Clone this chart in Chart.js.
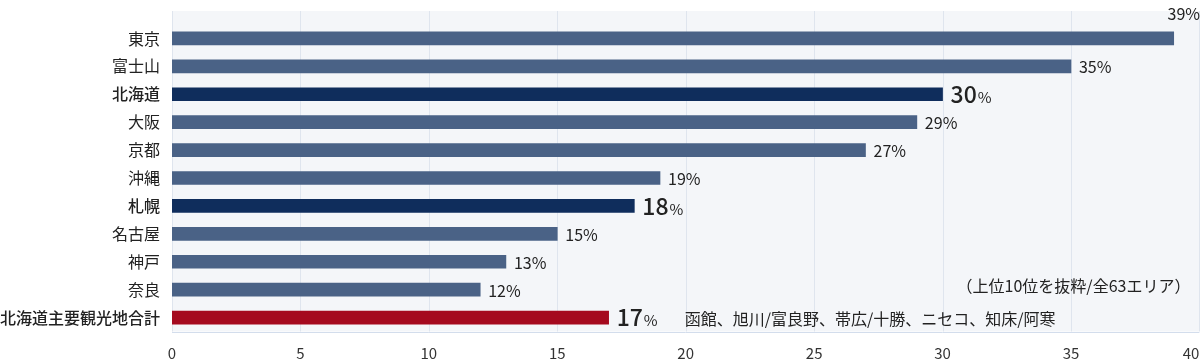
<!DOCTYPE html>
<html>
<head>
<meta charset="utf-8">
<script src="https://cdn.jsdelivr.net/npm/chart.js@4.4.1/dist/chart.umd.min.js"></script>
<style>
  body { margin: 0; background: #fff; }
  canvas { display: block; }
</style>
</head>
<body>
<canvas id="graph1" width="1201" height="364"></canvas>
<script>
// data
const areas = ['東京', '富士山', '北海道', '大阪', '京都', '沖縄', '札幌', '名古屋', '神戸', '奈良', '北海道主要観光地合計'];
const shares = [39, 35, 30, 29, 27, 19, 18, 15, 13, 12, 17];
const kinds = ['n', 'n', 'h', 'n', 'n', 'n', 'h', 'n', 'n', 'n', 't'];
const xTicks = [0, 5, 10, 15, 20, 25, 30, 35, 40];
const noteTop = '（上位10位を抜粋/全63エリア）';
const noteBottom = '函館、旭川/富良野、帯広/十勝、ニセコ、知床/阿寒';

const FONT = '"Noto Sans CJK JP", "Noto Sans", sans-serif';
const colorOf = { n: '#4a6286', h: '#0f2d5c', t: '#a50a1e' };

// plot background + vertical grid (extends a bit above the first bar)
const backPlugin = {
  id: 'back',
  beforeDraw(chart) {
    const c = chart.ctx;
    const a = chart.chartArea;
    const x = chart.scales.x;
    const top = a.top - 13.5;
    c.save();
    c.fillStyle = '#f4f6f9';
    c.fillRect(a.left, top, a.right - a.left, a.bottom - top);
    c.strokeStyle = '#dfe5ee';
    c.lineWidth = 1;
    xTicks.forEach(t => {
      let px = Math.round(x.getPixelForValue(t)) + 0.5;
      c.beginPath();
      c.moveTo(px, top);
      c.lineTo(px, a.bottom);
      c.stroke();
    });
    c.strokeStyle = '#d3ddec';
    c.beginPath();
    c.moveTo(a.left, Math.round(a.bottom) + 0.5);
    c.lineTo(a.right, Math.round(a.bottom) + 0.5);
    c.stroke();
    c.restore();
  }
};

// value labels, x tick labels and notes
const labelPlugin = {
  id: 'labels',
  afterDatasetsDraw(chart) {
    const c = chart.ctx;
    const a = chart.chartArea;
    const x = chart.scales.x;
    const y = chart.scales.y;
    const meta = chart.getDatasetMeta(0);
    c.save();
    c.fillStyle = '#222';
    c.textBaseline = 'middle';

    meta.data.forEach((bar, i) => {
      const v = String(shares[i]);
      if (kinds[i] == 'n') {
        c.font = '16px ' + FONT;
        let w = c.measureText(v + '%').width;
        if (bar.x + 8 + w > chart.width) {
          c.textAlign = 'right';
          c.fillText(v + '%', chart.width - 1, bar.y - 25);
        } else {
          c.textAlign = 'left';
          c.fillText(v + '%', bar.x + 8, bar.y + 1);
        }
      } else {
        c.textAlign = 'left';
        c.font = '500 23px ' + FONT;
        c.fillText(v, bar.x + 8, bar.y);
        let w = c.measureText(v).width;
        c.font = '15px ' + FONT;
        c.fillText('%', bar.x + 9 + w, bar.y + 3);
      }
    });

    // notes
    c.font = '16px ' + FONT;
    c.textAlign = 'right';
    c.fillText(noteTop, a.right - 9, y.getPixelForValue(9) - 4);
    c.textAlign = 'left';
    c.fillText(noteBottom, x.getPixelForValue(20) - 1, y.getPixelForValue(10) + 1);

    // x tick labels, last one kept inside the canvas
    c.font = '15px ' + FONT;
    c.fillStyle = '#333';
    xTicks.forEach((t, i) => {
      c.textAlign = i == xTicks.length - 1 ? 'right' : 'center';
      c.fillText(String(t), x.getPixelForValue(t), 353);
    });
    c.restore();
  }
};

const ctx = document.getElementById('graph1').getContext('2d');
const myChart = new Chart(ctx, {
  type: 'bar',
  data: {
    labels: areas,
    datasets: [{
      data: shares,
      backgroundColor: kinds.map(k => colorOf[k]),
      borderWidth: 0,
      barThickness: 13
    }]
  },
  options: {
    indexAxis: 'y',
    responsive: false,
    animation: false,
    devicePixelRatio: 1,
    layout: { padding: { top: 24.5, bottom: 32.5, left: 0, right: 1.6 } },
    plugins: {
      legend: { display: false },
      tooltip: { enabled: false }
    },
    scales: {
      x: {
        display: false,
        min: 0,
        max: 40
      },
      y: {
        grid: { display: false, drawTicks: false },
        border: { display: false },
        ticks: {
          padding: 12,
          color: '#222',
          font: (context) => ({
            family: FONT,
            size: 16,
            weight: kinds[context.index] == 'n' ? 'normal' : '500'
          })
        },
        afterFit: (s) => {
          s.width = 172;
          s.paddingTop = 0;
          s.paddingBottom = 0;
        }
      }
    }
  },
  plugins: [backPlugin, labelPlugin]
});
</script>
</body>
</html>
